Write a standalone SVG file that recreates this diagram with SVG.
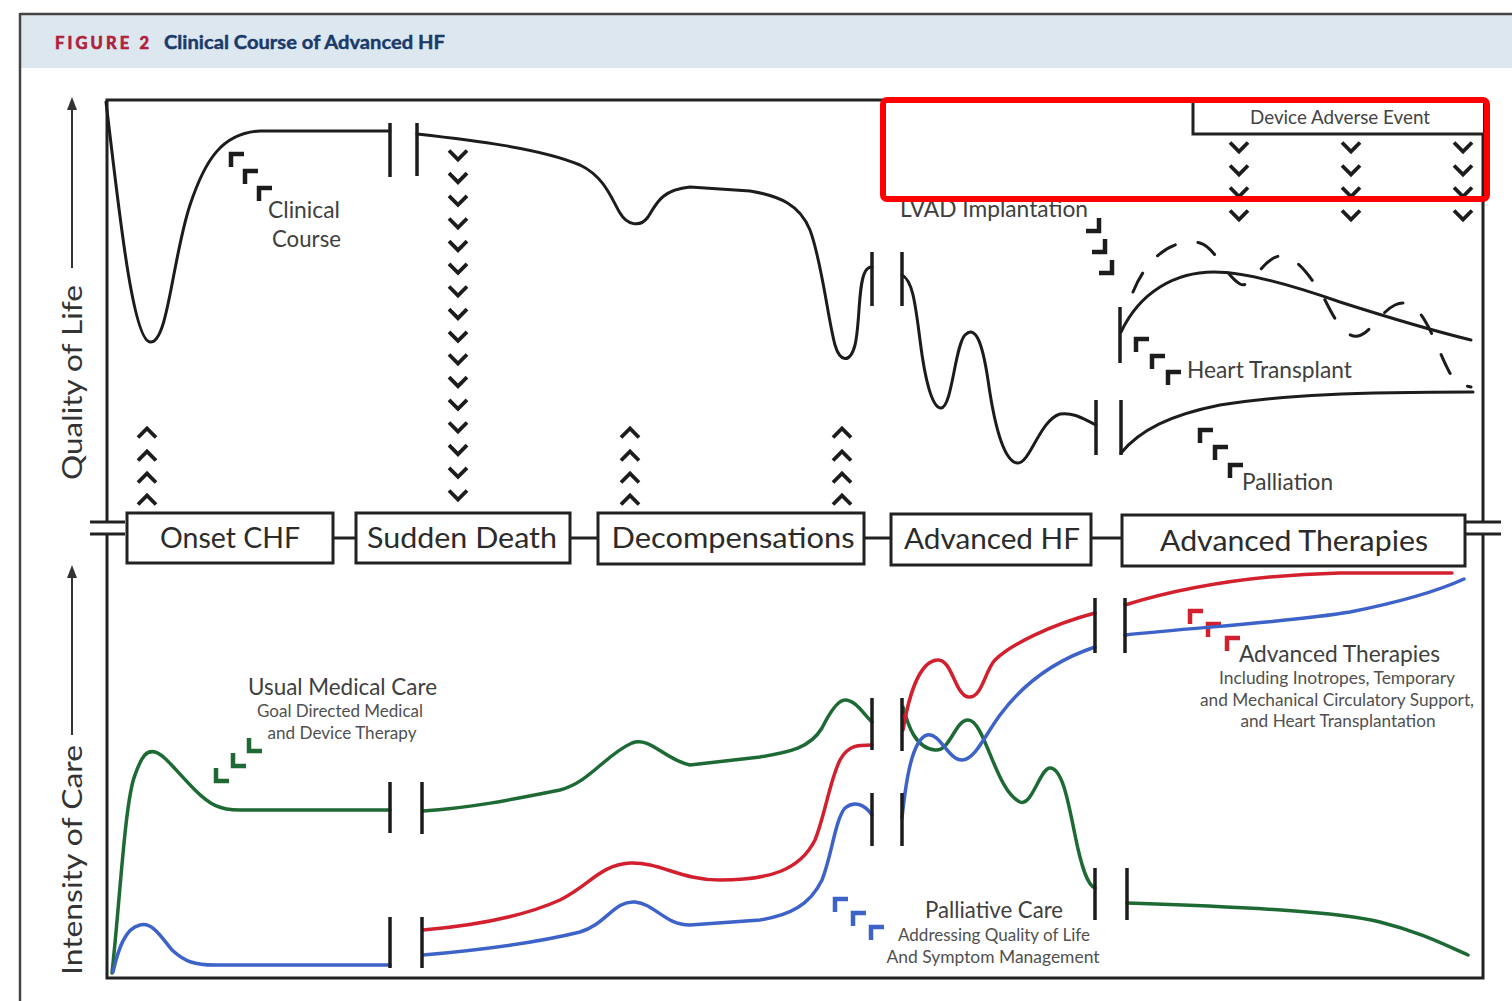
<svg xmlns="http://www.w3.org/2000/svg" xmlns:xlink="http://www.w3.org/1999/xlink" width="1512" height="1001" viewBox="0 0 1512 1001">
  <style>
    .ln{fill:none;stroke:#1c1c1c;stroke-width:3;stroke-linecap:round;stroke-linejoin:round}
    .dash{fill:none;stroke:#1c1c1c;stroke-width:3;stroke-dasharray:21 23;stroke-linecap:round}
    .bar{stroke:#1c1c1c;stroke-width:3.5}
    .frame{fill:none;stroke:#222;stroke-width:3}
    .g{fill:none;stroke:#1e6a35;stroke-width:3.5;stroke-linecap:round}
    .r{fill:none;stroke:#d3202f;stroke-width:3.5;stroke-linecap:round}
    .b{fill:none;stroke:#3d62c8;stroke-width:3.5;stroke-linecap:round}
    .box{fill:#fff;stroke:#222;stroke-width:3}
    .conn{stroke:#222;stroke-width:3}
    .t{font-family:Lato,"Open Sans","Liberation Sans",sans-serif}
    .lbl{font-size:29px;fill:#2b2b2b;text-anchor:middle}
    .ann{font-size:23px;fill:#404040}
    .sub{font-size:17px;fill:#505050;text-anchor:middle}
    .ax{font-size:27px;fill:#333}
  </style>
  <defs>
    <path id="dn" d="M-9,-4.5 L0,4.5 L9,-4.5" fill="none" stroke="#1c1c1c" stroke-width="3.8"/>
    <path id="up" d="M-9,4.5 L0,-4.5 L9,4.5" fill="none" stroke="#1c1c1c" stroke-width="3.8"/>
    <!-- corner marks: up-left, down-left, down-right -->
    <path id="cUL" d="M0,13 V0 H13" fill="none" stroke-width="4.5"/>
    <path id="cDL" d="M0,-13 V0 H13" fill="none" stroke-width="4.5"/>
    <path id="cDR" d="M-13,0 H0 V-13" fill="none" stroke-width="4.5"/>
  </defs>

  <rect width="1512" height="1001" fill="#fff"/>

  <!-- title band -->
  <g id="header">
    <rect x="21" y="15" width="1491" height="53" fill="#dce7ef"/>
    <line x1="20" y1="14" x2="1512" y2="14" stroke="#444" stroke-width="2.5"/>
    <line x1="20" y1="13" x2="20" y2="1001" stroke="#444" stroke-width="2.5"/>
    <text class="t" x="55" y="49" font-size="16.5" font-weight="bold" fill="#b01f3c" stroke="#b01f3c" stroke-width="0.7" textLength="94" lengthAdjust="spacing">FIGURE 2</text>
    <text class="t" x="164" y="49" font-size="18" font-weight="bold" fill="#1a3a6b" stroke="#1a3a6b" stroke-width="0.4" textLength="281" lengthAdjust="spacingAndGlyphs">Clinical Course of Advanced HF</text>
  </g>

  <!-- axes -->
  <g id="axes">
    <path class="frame" d="M107,522 V100 H1483 V522 M107,534 V978 H1483 V534"/>
    <path class="frame" d="M90,522 H125 M90,534 H125 M1466,522 H1501 M1466,534 H1501"/>
    <line x1="72" y1="268" x2="72" y2="106" stroke="#333" stroke-width="2"/>
    <polygon points="72,97 67,110 77,110" fill="#333"/>
    <line x1="72" y1="735" x2="72" y2="574" stroke="#333" stroke-width="2"/>
    <polygon points="72,565 67,578 77,578" fill="#333"/>
    <text class="t ax" transform="translate(82,480) rotate(-90)" textLength="195" lengthAdjust="spacingAndGlyphs">Quality of Life</text>
    <text class="t ax" transform="translate(82,975) rotate(-90)" textLength="230" lengthAdjust="spacingAndGlyphs">Intensity of Care</text>
  </g>

  <!-- quality of life course -->
  <g id="quality-curves">
    <path class="ln" d="M106,102 C118,200 132,340 150,342 C168,344 172,260 190,205 C205,160 222,133 260,131 L390,131"/>
    <path class="ln" d="M417,134 C470,140 540,148 580,165 C605,177 612,200 620,213 C627,225 640,228 648,217 C656,205 660,190 690,187 L750,191 C780,196 800,205 810,230 C822,262 828,320 835,345 C840,362 850,364 855,345 C860,325 858,285 865,272 C867,268 870,267 872,267"/>
    <path class="ln" d="M902,275 C912,280 915,300 920,340 C925,380 932,408 941,408 C952,408 955,345 965,335 C975,325 982,340 988,380 C995,430 1005,463 1018,463 C1030,463 1040,420 1060,414 C1075,412 1085,420 1096,425"/>
    <path class="ln" d="M1121,332 C1140,292 1175,272 1214,272 C1250,272 1300,288 1340,302 C1390,318 1430,330 1471,340"/>
    <path class="dash" d="M1133,292 C1150,250 1180,238 1200,243 C1215,247 1225,275 1240,284 C1252,290 1262,258 1280,256 C1300,256 1315,285 1325,300 C1335,320 1345,338 1358,336 C1370,334 1380,312 1395,305 C1410,298 1420,310 1430,330 C1440,350 1448,375 1458,384 L1471,387"/>
    <path class="ln" d="M1121,453 C1140,430 1170,415 1220,405 C1280,395 1360,392 1473,392"/>
    <path class="bar" d="M390,123 V177 M417,123 V176 M872,252 V306 M902,252 V306 M1096,400 V455 M1121,400 V455 M1120,307 V363"/>
  </g>

  <!-- event markers -->
  <g id="markers">
    <use xlink:href="#up" x="147" y="433"/><use xlink:href="#up" x="147" y="456"/><use xlink:href="#up" x="147" y="478"/><use xlink:href="#up" x="147" y="500"/>
    <use xlink:href="#up" x="630" y="433"/><use xlink:href="#up" x="630" y="456"/><use xlink:href="#up" x="630" y="478"/><use xlink:href="#up" x="630" y="500"/>
    <use xlink:href="#up" x="842" y="433"/><use xlink:href="#up" x="842" y="456"/><use xlink:href="#up" x="842" y="478"/><use xlink:href="#up" x="842" y="500"/>
    <use xlink:href="#dn" x="458" y="155"/><use xlink:href="#dn" x="458" y="177.7"/><use xlink:href="#dn" x="458" y="200.3"/><use xlink:href="#dn" x="458" y="223"/>
    <use xlink:href="#dn" x="458" y="245.7"/><use xlink:href="#dn" x="458" y="268.3"/><use xlink:href="#dn" x="458" y="291"/><use xlink:href="#dn" x="458" y="313.7"/>
    <use xlink:href="#dn" x="458" y="336.3"/><use xlink:href="#dn" x="458" y="359"/><use xlink:href="#dn" x="458" y="381.7"/><use xlink:href="#dn" x="458" y="404.3"/>
    <use xlink:href="#dn" x="458" y="427"/><use xlink:href="#dn" x="458" y="449.7"/><use xlink:href="#dn" x="458" y="472.3"/><use xlink:href="#dn" x="458" y="495"/>
    <use xlink:href="#dn" x="1239" y="147"/><use xlink:href="#dn" x="1239" y="170"/><use xlink:href="#dn" x="1239" y="192"/><use xlink:href="#dn" x="1239" y="215"/>
    <use xlink:href="#dn" x="1351" y="147"/><use xlink:href="#dn" x="1351" y="170"/><use xlink:href="#dn" x="1351" y="192"/><use xlink:href="#dn" x="1351" y="215"/>
    <use xlink:href="#dn" x="1463" y="147"/><use xlink:href="#dn" x="1463" y="170"/><use xlink:href="#dn" x="1463" y="192"/><use xlink:href="#dn" x="1463" y="215"/>
    <!-- pointer marks -->
    <g stroke="#1c1c1c">
      <use xlink:href="#cUL" x="231" y="154"/><use xlink:href="#cUL" x="245" y="171"/><use xlink:href="#cUL" x="259" y="188"/>
      <use xlink:href="#cUL" x="1136" y="339"/><use xlink:href="#cUL" x="1152" y="356"/><use xlink:href="#cUL" x="1168" y="372"/>
      <use xlink:href="#cUL" x="1200" y="430"/><use xlink:href="#cUL" x="1215" y="447"/><use xlink:href="#cUL" x="1230" y="465"/>
      <use xlink:href="#cDR" x="1099" y="231"/><use xlink:href="#cDR" x="1105" y="252"/><use xlink:href="#cDR" x="1112" y="273"/>
    </g>
    <g stroke="#1e6a35">
      <use xlink:href="#cDL" x="216" y="781"/><use xlink:href="#cDL" x="233" y="766"/><use xlink:href="#cDL" x="249" y="751"/>
    </g>
    <g stroke="#d3202f">
      <use xlink:href="#cUL" x="1190" y="611"/><use xlink:href="#cUL" x="1208" y="624"/><use xlink:href="#cUL" x="1227" y="638"/>
    </g>
    <g stroke="#3d62c8">
      <use xlink:href="#cUL" x="835" y="899"/><use xlink:href="#cUL" x="853" y="913"/><use xlink:href="#cUL" x="871" y="927"/>
    </g>
  </g>

  <!-- intensity of care -->
  <g id="care-curves">
    <path class="g" d="M112,973 C120,900 125,800 135,775 C142,755 147,750 155,752 C165,755 175,770 195,790 C210,805 220,810 240,810 L390,810"/>
    <path class="b" d="M113,972 C118,950 125,928 140,925 C152,922 160,935 172,950 C185,962 195,965 215,965 L390,965"/>
    <path class="g" d="M423,811 C470,808 510,800 560,790 C590,782 605,755 632,743 C650,736 665,760 690,765 L760,757 C790,752 810,748 822,728 C830,712 838,700 845,700 C855,700 862,712 872,722"/>
    <path class="r" d="M423,930 C470,926 520,918 560,900 C590,885 600,865 630,863 C660,862 680,880 720,880 C770,880 800,870 815,840 C825,815 830,780 840,760 C848,745 858,745 872,745"/>
    <path class="b" d="M423,955 C480,950 540,942 580,932 C605,925 615,900 635,902 C655,904 665,925 690,925 L760,920 C790,915 810,905 822,880 C832,855 835,820 845,808 C855,800 865,805 872,815"/>
    <path class="g" d="M903,707 C908,725 915,748 935,750 C950,752 955,720 968,720 C985,720 995,790 1020,802 C1032,807 1040,768 1050,768 C1062,768 1068,800 1075,835 C1082,870 1088,885 1095,888"/>
    <path class="r" d="M903,730 C908,700 918,662 937,660 C952,658 955,695 968,697 C982,699 985,670 995,660 C1010,645 1050,625 1095,613"/>
    <path class="b" d="M902,818 C906,780 912,740 927,735 C940,732 948,760 962,760 C975,760 985,735 1000,715 C1020,688 1050,662 1095,647"/>
    <path class="r" d="M1125,605 C1180,588 1250,575 1340,573 L1452,573"/>
    <path class="b" d="M1125,635 C1200,627 1290,622 1350,612 C1400,602 1440,590 1464,579"/>
    <path class="g" d="M1127,903 C1250,907 1340,912 1380,922 C1420,932 1445,945 1468,955"/>
    <path class="bar" d="M390,782 V833 M422,782 V834 M390,917 V968 M422,917 V968 M872,698 V750 M902,698 V751 M872,793 V846 M902,793 V846 M1095,598 V653 M1125,598 V653 M1095,868 V920 M1127,868 V920"/>
  </g>

  <!-- stage links -->
  <g id="connectors">
    <line class="conn" x1="333" y1="538" x2="356" y2="538"/>
    <line class="conn" x1="570" y1="538" x2="598" y2="538"/>
    <line class="conn" x1="864" y1="538" x2="891" y2="538"/>
    <line class="conn" x1="1091" y1="538" x2="1122" y2="538"/>
  </g>

  <!-- stages -->
  <g id="onset-chf">
    <rect class="box" x="127" y="513" width="206" height="50"/>
    <text class="t lbl" x="230" y="548" textLength="140" lengthAdjust="spacingAndGlyphs">Onset CHF</text>
  </g>
  <g id="sudden-death">
    <rect class="box" x="356" y="513" width="214" height="50"/>
    <text class="t lbl" x="462" y="548" textLength="190" lengthAdjust="spacingAndGlyphs">Sudden Death</text>
  </g>
  <g id="decompensations">
    <rect class="box" x="598" y="513" width="266" height="51"/>
    <text class="t lbl" x="733" y="548" textLength="243" lengthAdjust="spacingAndGlyphs">Decompensations</text>
  </g>
  <g id="advanced-hf">
    <rect class="box" x="891" y="514" width="200" height="51"/>
    <text class="t lbl" x="992" y="549" textLength="176" lengthAdjust="spacingAndGlyphs">Advanced HF</text>
  </g>
  <g id="advanced-therapies">
    <rect class="box" x="1122" y="515" width="343" height="51"/>
    <text class="t lbl" x="1294" y="551" textLength="268" lengthAdjust="spacingAndGlyphs">Advanced Therapies</text>
  </g>
  <g id="device-adverse-event">
    <path class="box" d="M1483,100 H1193 V134 H1483"/>
    <text class="t" x="1340" y="124" font-size="19" fill="#444" text-anchor="middle" textLength="180" lengthAdjust="spacingAndGlyphs">Device Adverse Event</text>
  </g>

  <!-- annotations -->
  <g id="labels" class="t">
    <text class="ann" x="268" y="218" textLength="72" lengthAdjust="spacingAndGlyphs">Clinical</text>
    <text class="ann" x="272" y="247" textLength="69" lengthAdjust="spacingAndGlyphs">Course</text>
    <text class="ann" x="900" y="217" textLength="188" lengthAdjust="spacingAndGlyphs">LVAD Implantation</text>
    <text class="ann" x="1187" y="378" textLength="165" lengthAdjust="spacingAndGlyphs">Heart Transplant</text>
    <text class="ann" x="1242" y="490" textLength="91" lengthAdjust="spacingAndGlyphs">Palliation</text>
    <text class="ann" x="248" y="695" font-size="22" textLength="189" lengthAdjust="spacingAndGlyphs">Usual Medical Care</text>
    <text class="sub" x="340" y="717" textLength="166" lengthAdjust="spacingAndGlyphs">Goal Directed Medical</text>
    <text class="sub" x="342" y="739" textLength="149" lengthAdjust="spacingAndGlyphs">and Device Therapy</text>
    <text class="ann" x="1239" y="662" textLength="201" lengthAdjust="spacingAndGlyphs">Advanced Therapies</text>
    <text class="sub" x="1337" y="684" textLength="236" lengthAdjust="spacingAndGlyphs">Including Inotropes, Temporary</text>
    <text class="sub" x="1337" y="706" textLength="274" lengthAdjust="spacingAndGlyphs">and Mechanical Circulatory Support,</text>
    <text class="sub" x="1338" y="727" textLength="195" lengthAdjust="spacingAndGlyphs">and Heart Transplantation</text>
    <text class="ann" x="925" y="918" font-size="22" textLength="138" lengthAdjust="spacingAndGlyphs">Palliative Care</text>
    <text class="sub" x="994" y="941" textLength="192" lengthAdjust="spacingAndGlyphs">Addressing Quality of Life</text>
    <text class="sub" x="993" y="963" textLength="213" lengthAdjust="spacingAndGlyphs">And Symptom Management</text>
  </g>

  <!-- highlight frame -->
  <rect x="883" y="100" width="604" height="99" rx="4" fill="none" stroke="#ff0000" stroke-width="6"/>
</svg>
